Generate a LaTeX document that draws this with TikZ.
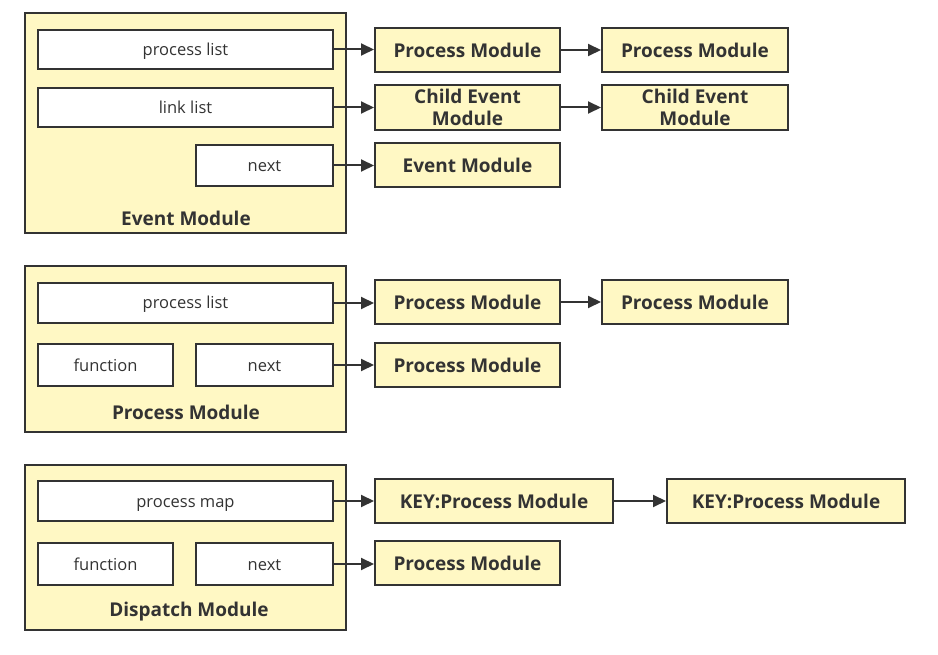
\documentclass[tikz,border=0pt]{standalone}
\usepackage{fontspec}
\setmainfont{Open Sans}
\usetikzlibrary{arrows.meta}
\definecolor{boxfill}{HTML}{FFF8C4}
\definecolor{ink}{HTML}{333333}
\begin{document}
\begin{tikzpicture}[x=1pt,y=-1pt,
  container/.style={draw=ink,line width=2pt,fill=boxfill,inner sep=0pt,rectangle},
  wbox/.style={draw=ink,line width=2pt,fill=white,inner sep=0pt,rectangle,text=ink,font=\fontsize{16.5}{19}\selectfont,text height=13pt,text depth=1pt},
  ybox/.style={draw=ink,line width=2pt,fill=boxfill,inner sep=0pt,rectangle,text=ink,font=\bfseries\fontsize{19}{22}\selectfont,align=center},
  title/.style={text=ink,font=\bfseries\fontsize{19}{22}\selectfont,inner sep=0pt},
  link/.style={draw=ink,line width=2pt,-{Triangle[length=13pt,width=12pt]}}
]
\useasboundingbox (0,0) rectangle (938,655);
% ---------- Event Module ----------
\node[container,minimum width=321pt,minimum height=220pt] (ev) at (185.5,123) {};
\node[title] (evt) at (186,218) {Event Module};
\node[wbox,minimum width=295pt,minimum height=39pt] (evpl) at (185.5,49.5) {process list};
\node[wbox,minimum width=295pt,minimum height=39pt] (evll) at (185.5,107.5) {link list};
\node[wbox,minimum width=137pt,minimum height=41pt] (evnx) at (264.5,165.5) {next};
\node[ybox,minimum width=185pt,minimum height=44pt] (p1) at (467.5,50) {Process Module};
\node[ybox,minimum width=186pt,minimum height=44pt] (p2) at (695,50) {Process Module};
\node[ybox,minimum width=185pt,minimum height=45pt] (c1) at (467.5,107.5) {Child Event\\Module};
\node[ybox,minimum width=186pt,minimum height=45pt] (c2) at (695,107.5) {Child Event\\Module};
\node[ybox,minimum width=185pt,minimum height=44pt] (e1) at (467.5,165) {Event Module};
\draw[link] (evpl.east) -- (evpl.east -| p1.west);
\draw[link] (p1.east) -- (p2.west);
\draw[link] (evll.east) -- (evll.east -| c1.west);
\draw[link] (c1.east) -- (c2.west);
\draw[link] (evnx.east) -- (evnx.east -| e1.west);
% ---------- Process Module ----------
\node[container,minimum width=321pt,minimum height=166pt] (pm) at (185.5,349) {};
\node[title] (pmt) at (186,412) {Process Module};
\node[wbox,minimum width=295pt,minimum height=40pt] (pmpl) at (185.5,303) {process list};
\node[wbox,minimum width=135pt,minimum height=42pt] (pmfn) at (105.5,365) {function};
\node[wbox,minimum width=137pt,minimum height=42pt] (pmnx) at (264.5,365) {next};
\node[ybox,minimum width=185pt,minimum height=44pt] (q1) at (467.5,302) {Process Module};
\node[ybox,minimum width=186pt,minimum height=44pt] (q2) at (695,302) {Process Module};
\node[ybox,minimum width=185pt,minimum height=44pt] (q3) at (467.5,365) {Process Module};
\draw[link] (pmpl.east) -- (pmpl.east -| q1.west);
\draw[link] (q1.east) -- (q2.west);
\draw[link] (pmnx.east) -- (pmnx.east -| q3.west);
% ---------- Dispatch Module ----------
\node[container,minimum width=321pt,minimum height=165pt] (dm) at (185.5,547.5) {};
\node[title] (dmt) at (189,612) {Dispatch Module};
\node[wbox,minimum width=295pt,minimum height=40pt] (dmpm) at (185.5,501) {process map};
\node[wbox,minimum width=135pt,minimum height=42pt] (dmfn) at (105.5,564) {function};
\node[wbox,minimum width=137pt,minimum height=42pt] (dmnx) at (264.5,564) {next};
\node[ybox,minimum width=238pt,minimum height=44pt] (k1) at (494,501) {KEY:Process Module};
\node[ybox,minimum width=238pt,minimum height=44pt] (k2) at (786,501) {KEY:Process Module};
\node[ybox,minimum width=185pt,minimum height=44pt] (r1) at (467.5,563) {Process Module};
\draw[link] (dmpm.east) -- (dmpm.east -| k1.west);
\draw[link] (k1.east) -- (k2.west);
\draw[link] (dmnx.east) -- (dmnx.east -| r1.west);
\end{tikzpicture}
\end{document}
